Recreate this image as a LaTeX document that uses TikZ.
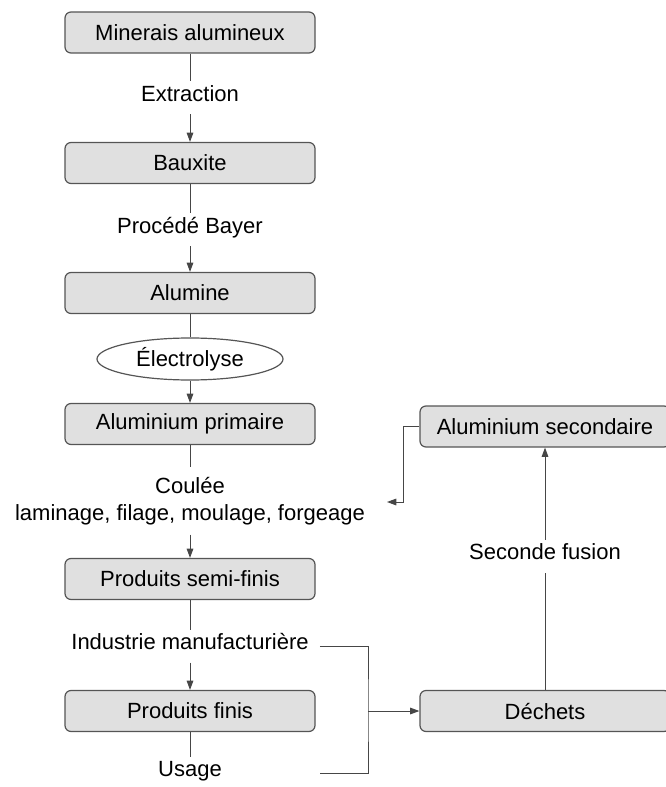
\documentclass[tikz,border=0pt]{standalone}
\usepackage{fontspec}
\setmainfont{Liberation Sans}
\usetikzlibrary{arrows.meta,shapes.geometric}

\definecolor{boxfill}{RGB}{224,224,224}
\definecolor{boxdraw}{RGB}{85,85,85}
\definecolor{linkdraw}{RGB}{70,70,70}

\tikzset{every picture/.style={line width=0.75pt}}
\tikzset{
  stagebox/.style={draw=boxdraw, fill=boxfill, rounded corners=4.5pt, line width=0.9pt,
    minimum width=187.5pt, minimum height=30.75pt, inner sep=0pt,
    font=\fontsize{16.5}{20}\selectfont},
  processlabel/.style={inner xsep=2pt, inner ysep=7pt, text height=0.75em, text depth=0.25em,
    align=center, font=\fontsize{16.5}{20}\selectfont},
  processoval/.style={draw=boxdraw, fill=white, ellipse, line width=0.9pt,
    minimum width=139.5pt, minimum height=31.5pt, inner sep=0pt,
    font=\fontsize{16.5}{20}\selectfont},
  link/.style={draw=linkdraw},
  flow/.style={draw=linkdraw, -{Triangle[length=7pt,width=5pt]}}
}

\begin{document}
\begin{tikzpicture}[x=0.75pt,y=0.75pt,yscale=-1,xscale=1]
\path[use as bounding box] (0,0) rectangle (665,787); %set diagram left start at 0, and has height of 787

%Shape: Rounded Rect [id:minerais]
\node [stagebox] (minerais) at (190,32.5) {Minerais alumineux};
%Shape: Rounded Rect [id:bauxite]
\node [stagebox] (bauxite) at (190,163) {Bauxite};
%Shape: Rounded Rect [id:alumine]
\node [stagebox] (alumine) at (190,293) {Alumine};
%Shape: Ellipse [id:electrolyse]
\node [processoval] (electrolyse) at (190,359) {Électrolyse};
%Shape: Rounded Rect [id:primaire]
\node [stagebox] (primaire) at (190,424) {Aluminium primaire};
%Shape: Rounded Rect [id:semifinis]
\node [stagebox] (semifinis) at (190,579) {Produits semi-finis};
%Shape: Rounded Rect [id:finis]
\node [stagebox] (finis) at (190,711) {Produits finis};
%Shape: Rounded Rect [id:secondaire]
\node [stagebox] (secondaire) at (545,426.5) {Aluminium secondaire};
%Shape: Rounded Rect [id:dechets]
\node [stagebox] (dechets) at (545,711) {Déchets};

% Text Node
\node [processlabel] (extraction) at (190,98) {Extraction};
% Text Node
\node [processlabel] (bayer) at (190,230) {Procédé Bayer};
% Text Node
\node [processlabel, text height=, text depth=, font=\fontsize{16.5}{20.25}\selectfont] (coulee) at (190,501) {Coulée\\laminage, filage, moulage, forgeage};
% Text Node
\node [processlabel] (industrie) at (190,646) {Industrie manufacturière};
% Text Node
\node [processlabel] (usage) at (190,773) {Usage};
% Text Node
\node [processlabel] (fusion) at (545,556) {Seconde fusion};

%Straight Lines [id:main chain]
\draw [link] (minerais) -- (extraction);
\draw [flow] (extraction) -- (bauxite);
\draw [link] (bauxite) -- (bayer);
\draw [flow] (bayer) -- (alumine);
\draw [link] (alumine) -- (electrolyse);
\draw [flow] (electrolyse) -- (primaire);
\draw [link] (primaire) -- (coulee);
\draw [flow] (coulee) -- (semifinis);
\draw [link] (semifinis) -- (industrie);
\draw [flow] (industrie) -- (finis);
\draw [link] (finis) -- (usage);

%Straight Lines [id:waste bracket]
\coordinate (bracket) at (368,711);
\draw [link] ([xshift=6pt]industrie.east) -| (bracket) |- ([xshift=6pt]usage.east -| industrie.east);
\draw [flow] (bracket) -- (dechets.west);

%Straight Lines [id:recycling]
\draw [link] (dechets) -- (fusion);
\draw [flow] (fusion) -- (secondaire);
\coordinate (retour) at (387,502);
\draw [flow] (secondaire.west) -| (403,502) -- (retour);

\end{tikzpicture}
\end{document}
